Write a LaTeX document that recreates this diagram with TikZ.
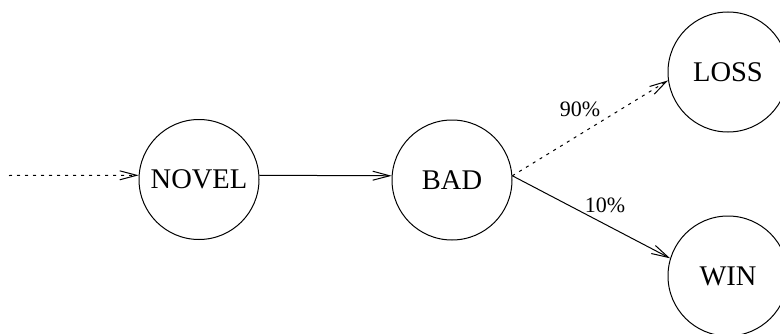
\documentclass[tikz,border=0pt]{standalone}
\usepackage{fontspec}
\setmainfont{Liberation Serif}
\usetikzlibrary{arrows.meta}
\begin{document}
\begin{tikzpicture}[x=1pt,y=1pt,
  state/.style={circle,draw,line width=1pt,inner sep=0pt,minimum size=120pt,font=\fontsize{28.5}{30}\selectfont},
  conn/.style={line width=1pt,-{Straight Barb[length=17pt,width=9pt,line width=1pt]}},
  dotline/.style={dash pattern=on 3pt off 5pt},
  plabel/.style={font=\fontsize{22}{24}\selectfont,inner sep=0pt}]
\clip (0,0) rectangle (780,333);
\useasboundingbox (0,0) rectangle (780,333);
\node[state] (novel) at (199,153.5) {NOVEL};
\node[state] (bad) at (452,153) {BAD};
\node[state] (loss) at (728,261) {LOSS};
\node[state] (win) at (728,57) {WIN};
\coordinate (in) at (9,157.5);
\draw[conn,dotline] (in) -- (novel.176);
\draw[conn] (novel.4) -- (bad.176);
\draw[conn,dotline] (bad.4.5) -- (loss.188);
\draw[conn] (bad.4.5) -- (win.163);
\node[plabel] (p90) at (580,224) {90\%};
\node[plabel] (p10) at (605,128) {10\%};
\end{tikzpicture}
\end{document}
